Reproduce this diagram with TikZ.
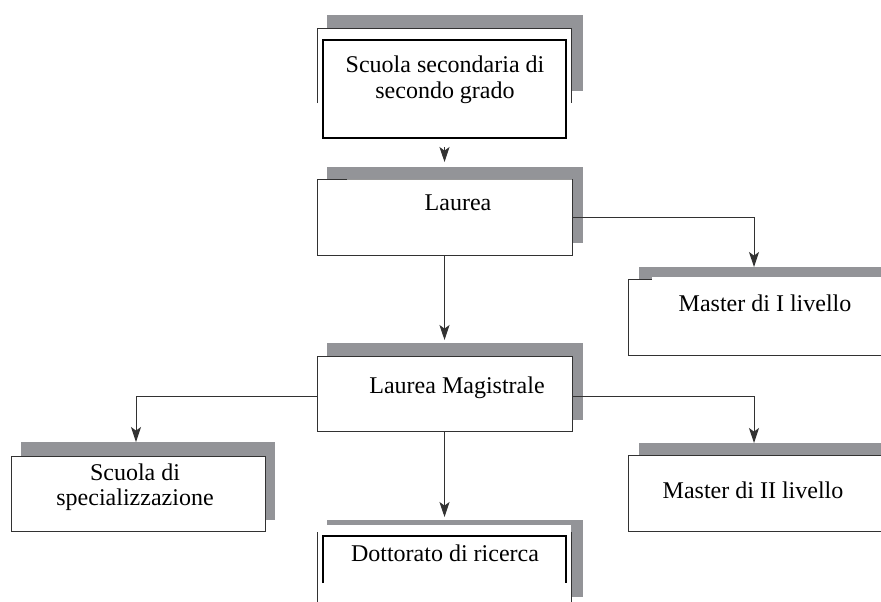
\documentclass[tikz,border=0pt]{standalone}
\usepackage{fontspec}
\setmainfont{Liberation Serif}
\usetikzlibrary{arrows.meta}
\definecolor{shgray}{RGB}{147,148,152}
\definecolor{linegray}{RGB}{50,50,50}
\tikzset{
  shadowbox/.style={fill=shgray, draw=none, inner sep=0pt, outer sep=0pt, anchor=north west},
  thinbox/.style={fill=white, draw=linegray, line width=0.5pt, inner sep=0pt, outer sep=0pt, anchor=north west},
  thickbox/.style={fill=white, draw=black, line width=1pt, inner sep=0pt, outer sep=0pt, anchor=north west},
  thinline/.style={draw=linegray, line width=0.5pt},
  thickline/.style={draw=black, line width=1pt},
  txt/.style={font=\fontsize{12}{13}\selectfont, align=center, inner sep=0pt},
  txtb/.style={font=\fontsize{12}{12.5}\selectfont, align=center, inner sep=0pt},
  arr/.style={draw=linegray, line width=0.5pt, -{Stealth[length=7.5pt,width=5pt,inset=1.8pt]}}
}
\begin{document}
\begin{tikzpicture}[x=0.5pt,y=-0.5pt]
\useasboundingbox (0,0) rectangle (881,601);
\fill[white] (0,0) rectangle (881,601);
\clip (0,0) rectangle (881,601);

% --- Scuola secondaria di secondo grado
\node[shadowbox, minimum width=128pt, minimum height=38pt] (s1) at (327,15) {};
\fill[white] (317,28) rectangle (571,103);
\draw[thinline] (317,103) -- (317,28) -- (571,28) -- (571,103);
\node[thickbox, minimum width=121.5pt, minimum height=49pt] (b1) at (323,40) {};
\node[txt] (t1) at (445,80) {Scuola secondaria di\\secondo grado};

% --- Laurea
\node[shadowbox, minimum width=128pt, minimum height=38pt] (s2) at (327,167) {};
\node[thinbox, minimum width=127.5pt, minimum height=38pt] (lau) at (317,179) {};
\draw[line width=0.5pt, black!40] (347,179) -- (572,179);
\node[txt] (t2) at (458,203) {Laurea};

% --- Master di I livello
\node[shadowbox, minimum width=135pt, minimum height=15pt] (s3) at (639,267) {};
\node[thinbox, minimum width=140pt, minimum height=38pt] (m1) at (628,279) {};
\fill[white] (652,277.2) rectangle (900,281.5);
\node[txt] (t3) at (765,303) {Master di I livello};

% --- Laurea Magistrale
\node[shadowbox, minimum width=128pt, minimum height=38.5pt] (s4) at (327,343) {};
\node[thinbox, minimum width=127.5pt, minimum height=37.5pt] (lm) at (317,356) {};
\node[txt] (t4) at (457,388) {Laurea Magistrale};

% --- Scuola di specializzazione
\node[shadowbox, minimum width=127pt, minimum height=39pt] (s5) at (21,442) {};
\node[thinbox, minimum width=127pt, minimum height=37.5pt] (ss) at (11,456) {};
\node[txtb] (t5) at (135,487.5) {Scuola di\\specializzazione};

% --- Master di II livello
\node[shadowbox, minimum width=135pt, minimum height=15pt] (s6) at (639,443) {};
\node[thinbox, minimum width=140pt, minimum height=38pt] (m2) at (628,455) {};
\node[txt] (t6) at (753,490) {Master di II livello};

% --- Dottorato di ricerca
\node[shadowbox, minimum width=128pt, minimum height=38.5pt] (s7) at (327,520) {};
\fill[white] (317,525) rectangle (571,610);
\draw[thinline] (317,532) -- (317,610);
\draw[thinline] (571,532) -- (571,610);
\draw[thickline] (323,583) -- (323,536) -- (566,536) -- (566,583);
\node[txt] (t7) at (445,553) {Dottorato di ricerca};

% --- connectors
\coordinate (m1top) at (754,267);
\coordinate (sstop) at (136,442);
\coordinate (m2top) at (754,443);
\draw[arr, shorten <=4.5pt, shorten >=2.5pt] (b1.south) -- (b1.south |- s2.north);
\draw[arr, shorten >=1.5pt] (lau.south) -- (lau.south |- s4.north);
\draw[arr] (lau.east) -| (m1top);
\draw[arr] ([yshift=-1.25pt]lm.west) -| (sstop);
\draw[arr] ([yshift=-1.25pt]lm.east) -| (m2top);
\draw[arr, shorten >=1.5pt] (lm.south) -- (lm.south |- s7.north);
\end{tikzpicture}
\end{document}
